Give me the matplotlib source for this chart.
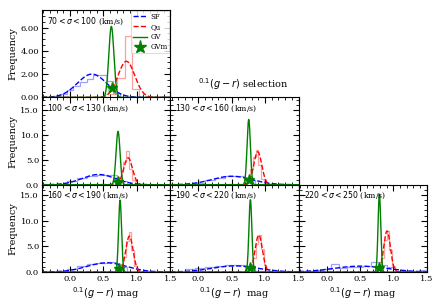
import numpy as np
import matplotlib.pyplot as plt
from matplotlib.ticker import MultipleLocator, FormatStrFormatter

plt.rcParams['font.family'] = 'serif'
plt.rcParams['mathtext.fontset'] = 'dejavusans'

# panel labels (sigma bins)
labels = [r'$70 < \sigma < 100$ (km/s)', r'$100 < \sigma < 130$ (km/s)',
          r'$130 < \sigma < 160$ (km/s)', r'$160 < \sigma < 190$ (km/s)',
          r'$190 < \sigma < 220$ (km/s)', r'$220 < \sigma < 250$ (km/s)']

# gaussian fits (amplitude, mean, sigma)
sf_fit = [(2.0, 0.33, 0.22), (2.05, 0.43, 0.25), (1.7, 0.50, 0.30),
          (1.8, 0.55, 0.30), (1.2, 0.55, 0.35), (1.15, 0.50, 0.40)]
qu_fit = [(3.1, 0.845, 0.125), (5.4, 0.87, 0.065), (6.6, 0.89, 0.06),
          (7.0, 0.89, 0.055), (7.2, 0.905, 0.055), (8.0, 0.905, 0.05)]
gv_fit = [(6.1, 0.62, 0.038), (10.7, 0.72, 0.03), (13.1, 0.755, 0.025),
          (14.0, 0.75, 0.022), (14.1, 0.78, 0.022), (15.2, 0.79, 0.02)]
gvm_x = [0.63, 0.72, 0.755, 0.74, 0.78, 0.79]
gvm_y = [0.8, 0.6, 1.0, 0.6, 0.8, 0.8]

# histograms (bin edges, heights)
sf_edges = [[-0.25, -0.15, -0.05, 0.05, 0.15, 0.25, 0.35, 0.45, 0.55, 0.65, 0.75],
            [-0.2, -0.05, 0.1, 0.25, 0.4, 0.55, 0.7, 0.85],
            [-0.2, -0.05, 0.1, 0.25, 0.4, 0.55, 0.7, 0.85],
            [-0.2, -0.05, 0.1, 0.25, 0.4, 0.55, 0.7, 0.85],
            [-0.2, -0.05, 0.1, 0.25, 0.4, 0.55, 0.7, 0.85, 1.0],
            [-0.42, -0.3, -0.18, -0.06, 0.06, 0.18, 0.3, 0.42, 0.54, 0.66, 0.78, 0.9, 1.02, 1.14, 1.26, 1.38, 1.5]]
sf_hist = [[0.1, 0.3, 0.6, 1.0, 1.3, 1.6, 1.9, 1.9, 1.4, 0.4],
           [0.2, 0.7, 1.3, 1.8, 2.0, 2.0, 0.8],
           [0.1, 0.4, 0.9, 1.4, 1.7, 1.8, 1.0],
           [0.2, 0.6, 1.1, 1.6, 1.8, 1.9, 1.0],
           [0.5, 0.8, 1.0, 1.1, 1.3, 1.3, 0.8, 0.3],
           [0.3, 0.2, 0.4, 0.5, 1.6, 0.8, 0.9, 1.0, 1.1, 2.0, 1.3, 1.0, 0.3, 0.2, 0.1, 0.4]]
qu_edges = [[0.6, 0.71, 0.82, 0.93, 1.04],
            [0.68, 0.76, 0.8, 0.84, 0.88, 0.93, 0.98, 1.04],
            [0.7, 0.78, 0.82, 0.86, 0.9, 0.94, 0.99, 1.04],
            [0.72, 0.8, 0.84, 0.88, 0.92, 0.96, 1.0, 1.04],
            [0.74, 0.82, 0.86, 0.9, 0.94, 0.98, 1.02, 1.06],
            [0.74, 0.82, 0.86, 0.9, 0.94, 0.98, 1.02, 1.06]]
qu_hist = [[0.3, 1.7, 5.3, 0.7],
           [0.8, 2.6, 4.5, 6.8, 3.2, 1.0, 0.2],
           [0.8, 3.2, 5.6, 6.9, 4.0, 1.2, 0.2],
           [0.7, 3.0, 6.0, 7.8, 4.2, 1.2, 0.2],
           [0.6, 2.8, 5.5, 7.3, 4.5, 1.3, 0.2],
           [0.5, 2.8, 6.2, 8.0, 4.3, 1.2, 0.2]]
gv_edges = [[0.52, 0.57, 0.62, 0.67, 0.72],
            [0.64, 0.69, 0.74, 0.79],
            [0.69, 0.73, 0.77, 0.81],
            [0.69, 0.73, 0.77, 0.81],
            [0.72, 0.76, 0.80, 0.84],
            [0.73, 0.77, 0.81, 0.85]]
gv_hist = [[0.3, 0.9, 0.9, 0.3],
           [1.2, 1.5, 0.3],
           [1.0, 1.4, 0.4],
           [1.3, 1.5, 0.4],
           [1.2, 1.6, 0.4],
           [1.0, 1.5, 0.4]]

xt = [0.0, 0.5, 1.0, 1.5]

fig = plt.figure(figsize=(4.36, 3.05), dpi=100)
gs = fig.add_gridspec(3, 3, left=0.096, right=0.979, top=0.967, bottom=0.108,
                      hspace=0, wspace=0)
slots = [(0, 0), (1, 0), (1, 1), (2, 0), (2, 1), (2, 2)]
xx = np.linspace(-0.42, 1.5, 600)

for i, (r, c) in enumerate(slots):
    ax = fig.add_subplot(gs[r, c])
    ax.stairs(sf_hist[i], sf_edges[i], color='#7777ff', alpha=0.7, lw=0.9)
    ax.stairs(qu_hist[i], qu_edges[i], color='#ff8888', alpha=0.8, lw=0.9)
    ax.stairs(gv_hist[i], gv_edges[i], color='#66bb66', alpha=0.6, lw=0.9)
    a, m, s = sf_fit[i]
    ax.plot(xx, a * np.exp(-0.5 * ((xx - m) / s) ** 2), 'b--', lw=1.0, label='SF')
    a, m, s = qu_fit[i]
    ax.plot(xx, a * np.exp(-0.5 * ((xx - m) / s) ** 2), 'r--', lw=1.0, label='Qu')
    a, m, s = gv_fit[i]
    ax.plot(xx, a * np.exp(-0.5 * ((xx - m) / s) ** 2), 'g-', lw=1.0, label='GV')
    ax.plot(gvm_x[i], gvm_y[i], 'g*', ms=8, label='GVm')

    ax.set_xlim(-0.42, 1.5)
    ax.set_xticks(xt)
    ax.xaxis.set_minor_locator(MultipleLocator(0.1))
    if r == 0:
        ax.set_ylim(0, 7.5)
        ax.set_yticks([0, 2, 4, 6])
        ax.yaxis.set_major_formatter(FormatStrFormatter('%.2f'))
        ax.yaxis.set_minor_locator(MultipleLocator(0.5))
        leg = ax.legend(loc='upper right', fontsize=5, handlelength=1.9,
                        handletextpad=0.5, borderpad=0.3, labelspacing=0.3,
                        framealpha=0.8, markerscale=1.2, borderaxespad=0.1)
        leg.get_frame().set_edgecolor('#cccccc')
        leg.get_frame().set_linewidth(0.6)
    else:
        ax.set_ylim(0, 17.5 if r == 1 else 17.0)
        ax.set_yticks([0, 5, 10, 15])
        ax.yaxis.set_major_formatter(FormatStrFormatter('%.1f'))
        ax.yaxis.set_minor_locator(MultipleLocator(1))
    ax.tick_params(which='both', direction='in', top=True, right=True, labelsize=6)
    ax.tick_params(which='major', length=4, width=0.8, pad=2)
    ax.tick_params(which='minor', length=2, width=0.6)
    if c == 0:
        ax.set_ylabel('Frequency', fontsize=7, labelpad=2)
    else:
        ax.tick_params(labelleft=False)
    if r == 2:
        lab = r'$^{0.1}(g-r)$  mag' if c == 1 else r'$^{0.1}(g-r)$ mag'
        ax.set_xlabel(lab, fontsize=7, labelpad=2)
    else:
        ax.tick_params(labelbottom=False)
    ax.text(0.04, 0.94, labels[i], transform=ax.transAxes, fontsize=5.6,
            va='top', ha='left')

fig.text(0.557, 0.700, r'$^{0.1}(g-r)$ selection', fontsize=7, ha='center', va='bottom')

plt.savefig('out.png', dpi=100)
